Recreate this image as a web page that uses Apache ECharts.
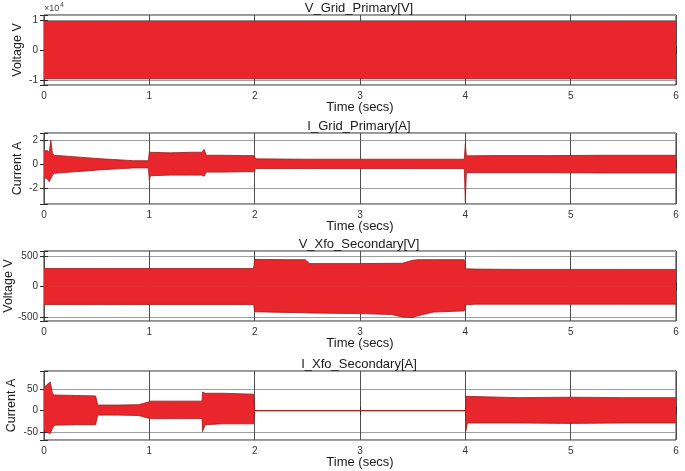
<!DOCTYPE html>
<html><head><meta charset="utf-8">
<script src="https://cdn.jsdelivr.net/npm/echarts@6/dist/echarts.min.js"></script>
<style>html,body{margin:0;padding:0;background:#fff}#c{width:685px;height:471px}</style>
</head><body><div id="c"></div>
<script>
// ---- text ----
const titles = ['V_Grid_Primary[V]', 'I_Grid_Primary[A]', 'V_Xfo_Secondary[V]', 'I_Xfo_Secondary[A]'];
const yNames = ['Voltage V', 'Current A', 'Voltage V', 'Current A'];
const xName = 'Time (secs)';
const timeTicks = [0, 1, 2, 3, 4, 5, 6];

// ---- envelope data (upper / lower extent of the oscillating waveform) ----
// Panel 1: V_Grid_Primary [V]
const t1  = [0, 0.5, 1, 1.5, 2, 2.5, 3, 3.5, 4, 4.5, 5, 5.5, 6];
const hi1 = [9600, 9600, 9600, 9600, 9600, 9600, 9600, 9600, 9600, 9600, 9600, 9600, 9600];
const lo1 = [-9600, -9600, -9600, -9600, -9600, -9600, -9600, -9600, -9600, -9600, -9600, -9600, -9600];

// Panel 2: I_Grid_Primary [A]
const t2  = [0, 0.03, 0.05, 0.065, 0.08, 0.1, 0.25, 0.4, 0.55, 0.7, 0.85, 0.99, 1.0, 1.01, 1.2, 1.4, 1.5, 1.52, 1.54, 1.7, 1.9, 1.99, 2.01, 2.5, 3.0, 3.5, 3.99, 4.0, 4.01, 4.3, 4.8, 5.3, 6.0];
const hi2 = [1.1, 1.15, 1.0, 2.0, 0.9, 0.75, 0.65, 0.55, 0.45, 0.38, 0.3, 0.3, 1.0, 1.0, 0.95, 1.0, 1.0, 1.25, 0.75, 0.75, 0.72, 0.72, 0.45, 0.42, 0.42, 0.42, 0.42, 1.7, 0.7, 0.72, 0.72, 0.75, 0.75];
const lo2 = [-1.1, -1.2, -1.45, -1.3, -0.9, -0.75, -0.65, -0.55, -0.45, -0.38, -0.3, -0.3, -1.3, -0.95, -0.9, -0.9, -0.9, -1.0, -0.65, -0.65, -0.62, -0.62, -0.35, -0.35, -0.35, -0.35, -0.35, -3.1, -0.7, -0.7, -0.7, -0.72, -0.72];

// Panel 3: V_Xfo_Secondary [V]
const t3  = [0, 0.5, 1.0, 1.5, 1.99, 2.0, 2.3, 2.48, 2.52, 3.0, 3.3, 3.4, 3.5, 3.55, 3.7, 3.99, 4.0, 4.1, 4.5, 5.0, 5.5, 6.0];
const hi3 = [295, 295, 295, 295, 295, 445, 440, 440, 375, 375, 380, 380, 430, 440, 440, 440, 290, 285, 280, 280, 280, 280];
const lo3 = [-295, -295, -295, -295, -295, -415, -425, -430, -435, -445, -460, -500, -510, -480, -420, -400, -300, -290, -290, -290, -290, -290];

// Panel 4: I_Xfo_Secondary [A]
const t4  = [0, 0.03, 0.06, 0.08, 0.1, 0.3, 0.49, 0.51, 0.7, 0.9, 0.99, 1.01, 1.2, 1.5, 1.505, 1.515, 1.53, 1.7, 1.99, 2.0, 3.0, 4.0, 4.005, 4.02, 4.5, 5.0, 5.5, 6.0];
const hi4 = [53, 60, 66, 40, 36, 35, 34, 13, 13, 14, 20, 22, 22, 22, 43, 43, 40, 40, 38, 0, 0, 0, 33, 30, 30, 31, 30, 30];
const lo4 = [-45, -50, -52, -40, -33, -32, -32, -10, -10, -11, -17, -18, -18, -18, -48, -48, -32, -30, -30, 0, 0, 0, -46, -28, -28, -29, -28, -28];

// ---- axis ranges / tick steps ----
const yMin = [-11700, -3.3, -566, -67];
const yMax = [11700, 2.6, 582, 91];
const yStep = [10000, 2, 500, 50];
const yScale = [10000, 1, 1, 1];

const panels = [[t1, hi1, lo1], [t2, hi2, lo2], [t3, hi3, lo3], [t4, hi4, lo4]];

// ---- layout ----
const gridTop = [15, 133, 251, 371];
const gridH = [70, 71, 70, 69];
const yNameGap = [20, 20, 29, 26];
const FONT = '"Liberation Sans", Arial, Helvetica, sans-serif';
const FILL = '#e8262c';
const EDGE = '#a01c1c';

const grids = [], xAxes = [], yAxes = [], series = [], graphics = [];
for (let i = 0; i < 4; i++) {
  grids.push({left: 44, right: 9, top: gridTop[i], height: gridH[i], show: true,
    borderColor: '#2b2b2b', borderWidth: 1, backgroundColor: 'transparent', containLabel: false, outerBoundsMode: 'none'});
  xAxes.push({type: 'value', gridIndex: i, min: timeTicks[0], max: timeTicks[timeTicks.length - 1], interval: 1,
    axisLine: {show: false},
    axisTick: {show: true, inside: true, length: 4, lineStyle: {color: '#2b2b2b'}},
    axisLabel: {fontSize: 10, color: '#333', margin: 6, fontFamily: FONT},
    splitLine: {show: true, lineStyle: {color: '#505050', width: 1}},
    name: xName, nameLocation: 'middle', nameGap: 16, nameMoveOverlap: false,
    nameTextStyle: {fontSize: 13, color: '#1a1a1a', fontFamily: FONT}
  });
  const step = yStep[i], sc = yScale[i];
  yAxes.push({type: 'value', gridIndex: i, min: yMin[i], max: yMax[i], splitNumber: (i === 0 || i === 2) ? 2 : 3,
    axisLine: {show: false},
    axisTick: {show: true, inside: true, length: 4, lineStyle: {color: '#2b2b2b'}},
    axisLabel: {fontSize: 10, color: '#333', margin: 6, fontFamily: FONT,
      formatter: v => (Math.abs(v / step - Math.round(v / step)) < 1e-6 ? String(Math.round(v / sc * 1000) / 1000) : '')},
    splitLine: {show: true, lineStyle: {color: '#a0a0a0', width: 1}},
    name: yNames[i], nameLocation: 'middle', nameGap: yNameGap[i], nameMoveOverlap: false,
    nameTextStyle: {fontSize: 12.5, color: '#1a1a1a', fontFamily: FONT}
  });
  const [t, hi, lo] = panels[i];
  const eps = (yMax[i] - yMin[i]) * 0.004;
  series.push({type: 'line', xAxisIndex: i, yAxisIndex: i, data: t.map((x, k) => [x, hi[k]]),
    symbol: 'none', lineStyle: {color: EDGE, width: 0.8}, areaStyle: {color: FILL, opacity: 1, origin: -eps},
    animation: false, silent: true, z: 3});
  series.push({type: 'line', xAxisIndex: i, yAxisIndex: i, data: t.map((x, k) => [x, lo[k]]),
    symbol: 'none', lineStyle: {color: EDGE, width: 0.8}, areaStyle: {color: FILL, opacity: 1, origin: eps},
    animation: false, silent: true, z: 3});
  graphics.push({type: 'text', x: 359, y: gridTop[i] - 7, z: 10,
    style: {text: titles[i], fill: '#1a1a1a', font: '13px ' + FONT, align: 'center', verticalAlign: 'middle'}});
}
// mirrored tick marks on top / right (box axes)
for (let i = 0; i < 4; i++) {
  xAxes.push({type: 'value', gridIndex: i, position: 'top', min: 0, max: 6, interval: 1,
    axisLine: {show: false}, axisLabel: {show: false}, splitLine: {show: false},
    axisTick: {show: true, inside: true, length: 4, lineStyle: {color: '#2b2b2b'}}});
  yAxes.push({type: 'value', gridIndex: i, position: 'right', min: yMin[i], max: yMax[i], splitNumber: (i === 0 || i === 2) ? 2 : 3,
    axisLine: {show: false}, axisLabel: {show: false}, splitLine: {show: false},
    axisTick: {show: true, inside: true, length: 4, lineStyle: {color: '#2b2b2b'}}});
}
// exponent label for panel 1
graphics.push({type: 'text', x: 44, y: 9, z: 10, style: {text: '×10', fill: '#444', font: '9px ' + FONT, align: 'left', verticalAlign: 'middle'}});
graphics.push({type: 'text', x: 60, y: 5, z: 10, style: {text: '4', fill: '#444', font: '7px ' + FONT, align: 'left', verticalAlign: 'middle'}});

const chart = echarts.init(document.getElementById('c'), null, {renderer: 'canvas'});
chart.setOption({
  backgroundColor: '#ffffff',
  animation: false,
  grid: grids, xAxis: xAxes, yAxis: yAxes, series: series, graphic: graphics
});
</script></body></html>
